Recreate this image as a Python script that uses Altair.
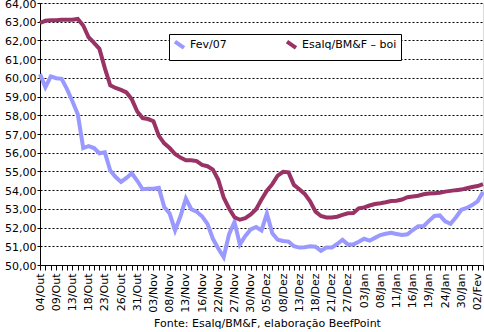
import altair as alt
import pandas as pd

dates = [
    "04/Out", "05/Out", "06/Out", "09/Out", "10/Out", "11/Out", "13/Out", "16/Out", "17/Out",
    "18/Out", "19/Out", "20/Out", "23/Out", "24/Out", "25/Out", "26/Out", "27/Out", "30/Out",
    "31/Out", "01/Nov", "02/Nov", "03/Nov", "06/Nov", "07/Nov", "08/Nov", "09/Nov", "10/Nov",
    "13/Nov", "14/Nov", "15/Nov", "16/Nov", "17/Nov", "21/Nov", "22/Nov", "23/Nov", "24/Nov",
    "27/Nov", "28/Nov", "29/Nov", "30/Nov", "01/Dez", "04/Dez", "05/Dez", "06/Dez", "07/Dez",
    "08/Dez", "11/Dez", "12/Dez", "13/Dez", "14/Dez", "15/Dez", "18/Dez", "19/Dez", "20/Dez",
    "21/Dez", "22/Dez", "26/Dez", "27/Dez", "28/Dez", "02/Jan", "03/Jan", "04/Jan", "05/Jan",
    "08/Jan", "09/Jan", "10/Jan", "11/Jan", "12/Jan", "15/Jan", "16/Jan", "17/Jan", "18/Jan",
    "19/Jan", "22/Jan", "23/Jan", "24/Jan", "26/Jan", "29/Jan", "30/Jan", "31/Jan", "01/Fev",
    "02/Fev", "05/Fev",
]

tick_labels = [
    "04/Out", "09/Out", "13/Out", "18/Out", "23/Out", "26/Out", "31/Out", "03/Nov", "08/Nov",
    "13/Nov", "16/Nov", "22/Nov", "27/Nov", "30/Nov", "05/Dez", "08/Dez", "13/Dez", "18/Dez",
    "21/Dez", "27/Dez", "03/Jan", "08/Jan", "11/Jan", "16/Jan", "19/Jan", "24/Jan", "30/Jan",
    "02/Fev",
]

fev07 = [
    60.2, 59.5, 60.08, 59.98, 59.95, 59.4, 58.75, 58.05, 56.25, 56.35,
    56.25, 55.97, 56.02, 55.05, 54.7, 54.44, 54.65, 54.9, 54.5, 54.05,
    54.07, 54.07, 54.12, 53.1, 52.75, 51.85, 52.6, 53.55, 52.98, 52.85,
    52.6, 52.2, 51.4, 50.88, 50.42, 51.65, 52.3, 51.1, 51.55, 51.9,
    52.03, 51.85, 52.75, 51.7, 51.35, 51.28, 51.25, 51.0, 50.93, 50.95,
    51.0, 50.98, 50.76, 50.93, 50.93, 51.12, 51.35, 51.1, 51.1, 51.24,
    51.4, 51.3, 51.45, 51.6, 51.67, 51.72, 51.66, 51.6, 51.64, 51.87,
    52.07, 52.07, 52.36, 52.62, 52.65, 52.33, 52.2, 52.55, 52.95, 53.05,
    53.2, 53.4, 53.9,
]

boi = [
    62.93, 63.05, 63.08, 63.08, 63.1, 63.1, 63.1, 63.15, 62.8, 62.17,
    61.87, 61.55, 60.52, 59.6, 59.46, 59.36, 59.22, 58.85, 58.2, 57.85,
    57.8, 57.68, 56.9, 56.5, 56.25, 55.93, 55.74, 55.6, 55.6, 55.55,
    55.35, 55.28, 55.1, 54.55, 53.6, 53.02, 52.55, 52.42, 52.5, 52.7,
    52.98, 53.5, 53.97, 54.32, 54.78, 54.98, 54.95, 54.28, 54.05, 53.8,
    53.4, 52.85, 52.62, 52.54, 52.54, 52.58, 52.68, 52.76, 52.78, 53.03,
    53.08, 53.18, 53.26, 53.3, 53.35, 53.42, 53.43, 53.5, 53.62, 53.66,
    53.7, 53.78, 53.82, 53.84, 53.86, 53.92, 53.96, 54.0, 54.03, 54.1,
    54.17, 54.22, 54.32,
]

series_names = ["Fev/07", "Esalq/BM&F \u2013 boi"]
series_colors = ["#9999ff", "#993366"]

rows = []
for i, d in enumerate(dates):
    rows.append({"data": d, "serie": series_names[0], "valor": fev07[i], "ord": 0})
    rows.append({"data": d, "serie": series_names[1], "valor": boi[i], "ord": 1})
df = pd.DataFrame(rows)

FONT = "DejaVu Sans"
label_list = "[" + ",".join("'" + t + "'" for t in tick_labels) + "]"

chart = alt.Chart(df).mark_line(strokeWidth=4, strokeJoin="miter").encode(
    x=alt.X(
        "data:O",
        sort=dates,
        scale=alt.Scale(type="point", padding=0),
        axis=alt.Axis(
            title=None,
            labelAngle=270,
            labelExpr="indexof(" + label_list + ", datum.value) >= 0 ? datum.value : ''",
            labelFont=FONT,
            labelFontSize=11,
            labelColor="black",
            labelPadding=3,
            labelOverlap=False,
            tickSize=5,
            tickColor="black",
            domainColor="black",
            grid=False,
        ),
    ),
    y=alt.Y(
        "valor:Q",
        scale=alt.Scale(domain=[50, 64], nice=False, zero=False),
        axis=alt.Axis(
            title=None,
            values=list(range(50, 65)),
            labelExpr="replace(format(datum.value, '.2f'), '.', ',')",
            labelFont=FONT,
            labelFontSize=11,
            labelColor="black",
            labelPadding=1,
            labelOffset=1,
            tickSize=3,
            tickColor="black",
            domainColor="black",
            grid=True,
            gridColor="black",
            gridDash=[2, 2],
            gridWidth=1,
            gridOpacity=1,
        ),
    ),
    color=alt.Color(
        "serie:N",
        scale=alt.Scale(domain=series_names, range=series_colors),
        legend=alt.Legend(
            title=None,
            orient="none",
            legendX=129,
            legendY=31,
            direction="horizontal",
            strokeColor="black",
            fillColor="white",
            padding=4,
            symbolType="M-1,-0.7L1,0.7",
            symbolSize=81,
            symbolStrokeWidth=4,
            labelFont=FONT,
            labelFontSize=11,
            labelColor="black",
            labelOffset=4,
            columnPadding=52,
        ),
    ),
    order="ord:Q",
    detail="serie:N",
).properties(
    width=443,
    height=262,
    title=alt.TitleParams(
        "Fonte: Esalq/BM&F, elaboração BeefPoint",
        orient="bottom",
        anchor="middle",
        font=FONT,
        fontSize=11,
        fontWeight="normal",
        color="black",
        offset=6,
        dx=6,
    ),
    autosize=alt.AutoSizeParams(type="none"),
    padding={"left": 40, "top": 3, "right": 1, "bottom": 67},
).configure_view(stroke=None).configure(background="white")

chart.save("out.html", embed_options={"renderer": "svg", "actions": False})
